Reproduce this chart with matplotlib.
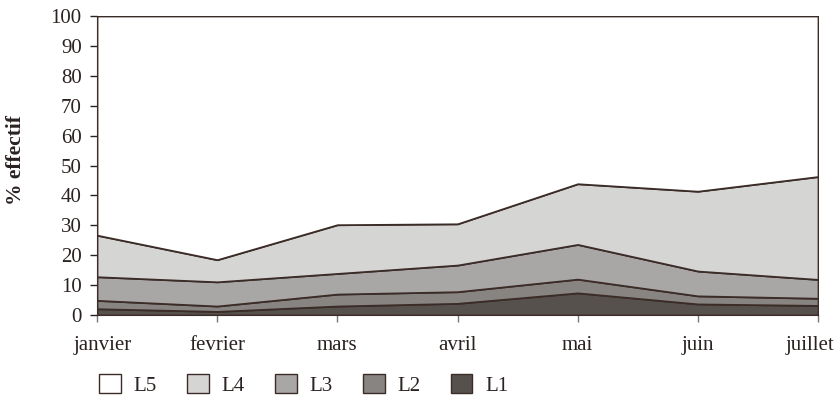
import numpy as np
import matplotlib.pyplot as plt
import matplotlib.transforms as mtransforms
from matplotlib.patches import Patch

plt.rcParams['font.family'] = 'Liberation Serif'

mois = ['janvier', 'fevrier', 'mars', 'avril', 'mai', 'juin', 'juillet']

# pourcentages par classe (empilés de L1 à L5)
L1 = [2.1, 1.2, 3.0, 3.9, 7.4, 3.7, 3.2]
L2 = [2.8, 1.8, 4.0, 3.9, 4.6, 2.7, 2.4]
L3 = [7.9, 8.1, 6.9, 8.9, 11.6, 8.3, 6.3]
L4 = [13.9, 7.4, 16.3, 13.8, 20.3, 26.7, 34.4]
couleurs = ['#57514e', '#878482', '#a9a7a6', '#d5d5d4', '#ffffff']
trait = '#3b2c27'

vals = np.array([L1, L2, L3, L4])
L5 = 100 - vals.sum(axis=0)
vals = np.vstack([vals, L5])
x = np.arange(len(mois))

fig = plt.figure(figsize=(8.39, 3.98), dpi=100)
ax = fig.add_axes([0.1156, 0.2085, 0.8594, 0.7513])

bas = np.zeros(len(mois))
for k in range(vals.shape[0]):
    haut = bas + vals[k]
    ax.fill_between(x, bas, haut, facecolor=couleurs[k], edgecolor=trait, linewidth=1.3)
    bas = haut

ax.set_xlim(0, 6)
ax.set_ylim(0, 100)
ax.set_yticks(np.arange(0, 101, 10))
ax.set_xticks(x)
ax.set_xticklabels(mois)
ax.tick_params(axis='both', labelsize=15, colors='#2a2220', length=5, width=1, direction='out')
ax.tick_params(axis='x', pad=10, colors='#7a7574', labelcolor='#2a2220')
ax.tick_params(axis='y', pad=6)
for s in ['top', 'right']:
    ax.spines[s].set_visible(False)
ax.spines['left'].set_color('#3b2c27')
ax.spines['bottom'].set_color('#3b2c27')

# décaler les étiquettes des extrémités vers l'intérieur
labs = ax.get_xticklabels()
for lab, dx in [(labs[0], 6), (labs[-1], -8)]:
    lab.set_transform(lab.get_transform() + mtransforms.ScaledTranslation(dx / 100, 0, fig.dpi_scale_trans))

fig.text(0.019, 0.598, '% effectif', rotation=90, ha='center', va='center',
         fontsize=15.5, fontweight='bold', color='#2a2220')

noms = ['L5', 'L4', 'L3', 'L2', 'L1']
handles = [Patch(facecolor=couleurs[4 - i], edgecolor=trait, linewidth=1) for i in range(5)]
fig.legend(handles, noms, loc='center', bbox_to_anchor=(0.362, 0.033), ncol=5,
           frameon=False, fontsize=15, handlelength=1.05, handleheight=1.05,
           handletextpad=0.6, columnspacing=1.45, labelcolor='#2a2220')

fig.savefig('out.png', dpi=100)
